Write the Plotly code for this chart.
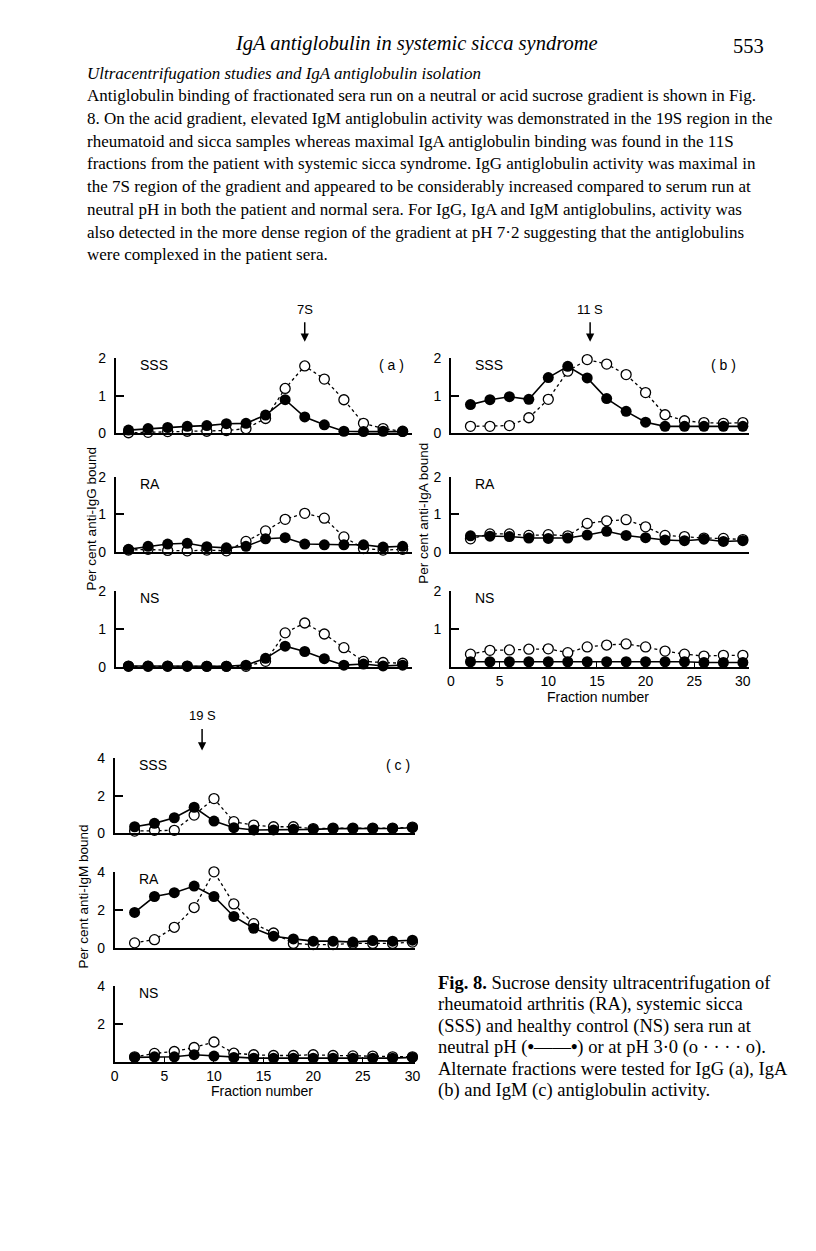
import plotly.graph_objects as go

W, H = 816, 1251

# ---------------- data ----------------
fractions = [2, 4, 6, 8, 10, 12, 14, 16, 18, 20, 22, 24, 26, 28, 30]

# (a) IgG antiglobulin, % anti-IgG bound
igg_sss_neutral = [0.09, 0.13, 0.16, 0.19, 0.21, 0.26, 0.27, 0.49, 0.90, 0.44, 0.23, 0.06, 0.05, 0.06, 0.05]
igg_sss_acid    = [0.02, 0.03, 0.05, 0.06, 0.06, 0.08, 0.13, 0.40, 1.20, 1.80, 1.45, 0.90, 0.27, 0.13, 0.06]
igg_ra_neutral  = [0.07, 0.15, 0.21, 0.23, 0.14, 0.11, 0.15, 0.35, 0.38, 0.21, 0.19, 0.19, 0.19, 0.13, 0.15]
igg_ra_acid     = [0.05, 0.07, 0.04, 0.03, 0.05, 0.03, 0.28, 0.56, 0.87, 1.03, 0.90, 0.40, 0.09, 0.05, 0.07]
igg_ns_neutral  = [0.04, 0.04, 0.04, 0.04, 0.03, 0.03, 0.06, 0.24, 0.56, 0.42, 0.23, 0.06, 0.09, 0.04, 0.06]
igg_ns_acid     = [0.03, 0.03, 0.03, 0.03, 0.03, 0.03, 0.03, 0.16, 0.91, 1.17, 0.88, 0.52, 0.16, 0.13, 0.11]

# (b) IgA antiglobulin, % anti-IgA bound
iga_sss_neutral = [0.77, 0.90, 0.98, 0.91, 1.49, 1.79, 1.48, 0.93, 0.59, 0.30, 0.19, 0.19, 0.19, 0.19, 0.19]
iga_sss_acid    = [0.19, 0.19, 0.21, 0.42, 0.91, 1.66, 1.97, 1.85, 1.57, 1.09, 0.50, 0.34, 0.29, 0.27, 0.29]
iga_ra_neutral  = [0.43, 0.42, 0.41, 0.37, 0.36, 0.37, 0.45, 0.55, 0.44, 0.38, 0.32, 0.30, 0.34, 0.28, 0.30]
iga_ra_acid     = [0.35, 0.48, 0.48, 0.44, 0.46, 0.43, 0.76, 0.83, 0.86, 0.67, 0.44, 0.41, 0.37, 0.36, 0.33]
iga_ns_neutral  = [0.15, 0.15, 0.15, 0.15, 0.15, 0.15, 0.15, 0.15, 0.15, 0.15, 0.15, 0.15, 0.13, 0.13, 0.13]
iga_ns_acid     = [0.35, 0.45, 0.46, 0.48, 0.49, 0.39, 0.54, 0.59, 0.62, 0.54, 0.43, 0.35, 0.30, 0.32, 0.32]

# (c) IgM antiglobulin, % anti-IgM bound
igm_sss_neutral = [0.35, 0.53, 0.83, 1.39, 0.65, 0.30, 0.18, 0.18, 0.21, 0.21, 0.25, 0.25, 0.25, 0.26, 0.30]
igm_sss_acid    = [0.12, 0.16, 0.16, 0.97, 1.85, 0.62, 0.44, 0.35, 0.35, 0.25, 0.28, 0.28, 0.28, 0.28, 0.33]
igm_ra_neutral  = [1.86, 2.70, 2.90, 3.25, 2.70, 1.65, 1.03, 0.61, 0.47, 0.35, 0.35, 0.30, 0.38, 0.35, 0.40]
igm_ra_acid     = [0.26, 0.43, 1.08, 2.12, 4.00, 2.31, 1.27, 0.78, 0.23, 0.17, 0.17, 0.23, 0.23, 0.23, 0.30]
igm_ns_neutral  = [0.26, 0.29, 0.29, 0.40, 0.33, 0.26, 0.22, 0.22, 0.22, 0.22, 0.22, 0.22, 0.22, 0.22, 0.26]
igm_ns_acid     = [0.29, 0.47, 0.57, 0.78, 1.07, 0.48, 0.40, 0.36, 0.36, 0.40, 0.36, 0.34, 0.33, 0.29, 0.29]

x_tick_vals = [0, 5, 10, 15, 20, 25, 30]
x_tick_text = ["0", "5", "10", "15", "20", "25", "30"]

header_title = "IgA antiglobulin in systemic sicca syndrome"
page_number = "553"
subheading = "Ultracentrifugation studies and IgA antiglobulin isolation"
body_lines = [
    "Antiglobulin binding of fractionated sera run on a neutral or acid sucrose gradient is shown in Fig.",
    "8. On the acid gradient, elevated IgM antiglobulin activity was demonstrated in the 19S region in the",
    "rheumatoid and sicca samples whereas maximal IgA antiglobulin binding was found in the 11S",
    "fractions from the patient with systemic sicca syndrome. IgG antiglobulin activity was maximal in",
    "the 7S region of the gradient and appeared to be considerably increased compared to serum run at",
    "neutral pH in both the patient and normal sera. For IgG, IgA and IgM antiglobulins, activity was",
    "also detected in the more dense region of the gradient at pH 7·2 suggesting that the antiglobulins",
    "were complexed in the patient sera.",
]
caption_lines = [
    "<b>Fig. 8.</b> Sucrose density ultracentrifugation of",
    "rheumatoid arthritis (RA), systemic sicca",
    "(SSS) and healthy control (NS) sera run at",
    "neutral pH (<b>•</b>——<b>•</b>) or at pH 3·0 (o · · · · o).",
    "Alternate fractions were tested for IgG (a), IgA",
    "(b) and IgM (c) antiglobulin activity.",
]

# ---------------- layout helpers ----------------
def px(x):
    return x / W

def py(y):
    return 1 - y / H

SANS = "Liberation Sans, Arial, sans-serif"
SERIF = "Liberation Serif, Times New Roman, serif"

fig = go.Figure()
layout = dict(
    width=W, height=H,
    margin=dict(l=0, r=0, t=0, b=0),
    paper_bgcolor="white", plot_bgcolor="white",
    showlegend=False,
    font=dict(family=SANS, size=14, color="black"),
)

panels = [
    # column (a)
    dict(xl=113, xr=413, xrange=[0.7, 31.0], y0=431, yt=355, ymax=2, yt_vals=[0, 1, 2], xlab=False,
         neutral=igg_sss_neutral, acid=igg_sss_acid, label="SSS"),
    dict(xl=113, xr=413, xrange=[0.7, 31.0], y0=551, yt=475, ymax=2, yt_vals=[0, 1, 2], xlab=False,
         neutral=igg_ra_neutral, acid=igg_ra_acid, label="RA"),
    dict(xl=113, xr=413, xrange=[0.7, 31.0], y0=668, yt=591, ymax=2, yt_vals=[0, 1, 2], xlab=False,
         neutral=igg_ns_neutral, acid=igg_ns_acid, label="NS"),
    # column (b)
    dict(xl=452, xr=753, xrange=[0, 30.6], y0=431, yt=355, ymax=2, yt_vals=[0, 1, 2], xlab=False,
         neutral=iga_sss_neutral, acid=iga_sss_acid, label="SSS"),
    dict(xl=452, xr=753, xrange=[0, 30.6], y0=551, yt=475, ymax=2, yt_vals=[0, 1, 2], xlab=False,
         neutral=iga_ra_neutral, acid=iga_ra_acid, label="RA"),
    dict(xl=452, xr=753, xrange=[0, 30.6], y0=668, yt=591, ymax=2, yt_vals=[1, 2], xlab=True,
         neutral=iga_ns_neutral, acid=iga_ns_acid, label="NS"),
    # column (c)
    dict(xl=112, xr=416, xrange=[0, 30.3], y0=836, yt=760, ymax=4, yt_vals=[0, 2, 4], xlab=False,
         neutral=igm_sss_neutral, acid=igm_sss_acid, label="SSS"),
    dict(xl=112, xr=416, xrange=[0, 30.3], y0=952, yt=875, ymax=4, yt_vals=[0, 2, 4], xlab=False,
         neutral=igm_ra_neutral, acid=igm_ra_acid, label="RA"),
    dict(xl=112, xr=416, xrange=[0, 30.3], y0=1068, yt=991, ymax=4, yt_vals=[2, 4], xlab=True,
         neutral=igm_ns_neutral, acid=igm_ns_acid, label="NS"),
]

annotations = []

for i, p in enumerate(panels, start=1):
    sfx = "" if i == 1 else str(i)
    xa, ya = "x" + sfx, "y" + sfx
    layout["xaxis" + sfx] = dict(
        domain=[px(p["xl"]), px(p["xr"])], range=p["xrange"], anchor=ya,
        showline=True, linecolor="black", linewidth=1.6, mirror=False,
        showgrid=False, zeroline=False, fixedrange=True,
        tickvals=x_tick_vals, ticktext=x_tick_text,
        ticks="inside" if p["xlab"] else "", ticklen=6, tickwidth=1.3, tickcolor="black",
        showticklabels=p["xlab"], tickfont=dict(family=SANS, size=14),
    )
    layout["yaxis" + sfx] = dict(
        domain=[py(p["y0"]), py(p["yt"])], range=[0, p["ymax"]], anchor=xa,
        showline=True, linecolor="black", linewidth=1.6,
        showgrid=False, zeroline=False, fixedrange=True,
        tickvals=p["yt_vals"], ticktext=[str(v) for v in p["yt_vals"]],
        ticks="inside", ticklen=8, tickwidth=1.6, tickcolor="black",
        tickfont=dict(family=SANS, size=14), ticklabelstandoff=5,
    )
    # acid (pH 3.0): open circles, dotted line
    fig.add_trace(go.Scatter(
        x=fractions, y=p["acid"], xaxis=xa, yaxis=ya, mode="lines+markers",
        line=dict(color="black", width=1.3, dash="dot"),
        marker=dict(symbol="circle", size=10, color="white", line=dict(color="black", width=1.3)),
        cliponaxis=False, name="pH 3·0",
    ))
    # neutral pH: filled circles, solid line
    fig.add_trace(go.Scatter(
        x=fractions, y=p["neutral"], xaxis=xa, yaxis=ya, mode="lines+markers",
        line=dict(color="black", width=1.6),
        marker=dict(symbol="circle", size=11, color="black", line=dict(color="black", width=0)),
        cliponaxis=False, name="neutral pH",
    ))
    annotations.append(dict(
        x=px(p["xl"] + 22), y=py(p["yt"] + 7), xref="paper", yref="paper",
        text=p["label"], showarrow=False, xanchor="left", yanchor="middle",
        font=dict(family=SANS, size=14),
    ))

# column letters
for txt, xx, yy in [("( a )", 392, 362), ("( b )", 728, 362), ("( c )", 398, 767)]:
    annotations.append(dict(x=px(xx), y=py(yy), xref="paper", yref="paper", text=txt,
                            showarrow=False, xanchor="center", yanchor="middle",
                            font=dict(family=SANS, size=14)))

# sedimentation markers (arrow + label), positioned on the fraction scale
markers = [("7S", "x", 20.0, 305, 317, 338), ("11 S", "x4", 14.3, 305, 317, 338),
           ("19 S", "x7", 8.8, 717, 729, 752)]
for txt, xref, fx, ty, a_top, a_bot in markers:
    annotations.append(dict(x=fx, y=py(ty), xref=xref, yref="paper", text=txt, showarrow=False,
                            xanchor="center", yanchor="middle", font=dict(family=SANS, size=13)))
    annotations.append(dict(x=fx, y=py(a_bot), xref=xref, yref="paper", text="", showarrow=True,
                            ax=0, ay=-(a_bot - a_top), arrowhead=2, arrowsize=1.1, arrowwidth=1.5,
                            arrowcolor="black"))

# y-axis titles
for txt, xx, yy in [("Per cent anti-IgG bound", 88, 518), ("Per cent anti-IgA bound", 424, 512),
                    ("Per cent anti-IgM bound", 80, 900)]:
    annotations.append(dict(x=px(xx), y=py(yy), xref="paper", yref="paper", text=txt, textangle=-90,
                            showarrow=False, xanchor="center", yanchor="middle",
                            font=dict(family=SANS, size=13.5)))

# x-axis titles
for txt, xx, yy in [("Fraction number", 601, 698), ("Fraction number", 261, 1097)]:
    annotations.append(dict(x=px(xx), y=py(yy), xref="paper", yref="paper", text=txt,
                            showarrow=False, xanchor="center", yanchor="middle",
                            font=dict(family=SANS, size=14)))

# page header and body text
annotations.append(dict(x=px(417), y=py(36), xref="paper", yref="paper",
                        text="<i>" + header_title + "</i>", showarrow=False,
                        xanchor="center", yanchor="middle", font=dict(family=SERIF, size=20.5)))
annotations.append(dict(x=px(770), y=py(38), xref="paper", yref="paper", text=page_number,
                        showarrow=False, xanchor="right", yanchor="middle",
                        font=dict(family=SERIF, size=20.5)))
annotations.append(dict(x=px(82), y=py(66), xref="paper", yref="paper",
                        text="<i>" + subheading + "</i>", showarrow=False,
                        xanchor="left", yanchor="middle", font=dict(family=SERIF, size=17)))
for k, line in enumerate(body_lines):
    annotations.append(dict(x=px(82), y=py(89 + 23 * k), xref="paper", yref="paper", text=line,
                            showarrow=False, xanchor="left", yanchor="middle",
                            font=dict(family=SERIF, size=17)))
for k, line in enumerate(caption_lines):
    annotations.append(dict(x=px(437), y=py(988 + 21.7 * k), xref="paper", yref="paper", text=line,
                            showarrow=False, xanchor="left", yanchor="middle",
                            font=dict(family=SERIF, size=18.5)))

layout["annotations"] = annotations
fig.update_layout(**layout)
fig.write_html("out.html", config={"displayModeBar": False},
               post_script="document.body.style.margin='0px';")
